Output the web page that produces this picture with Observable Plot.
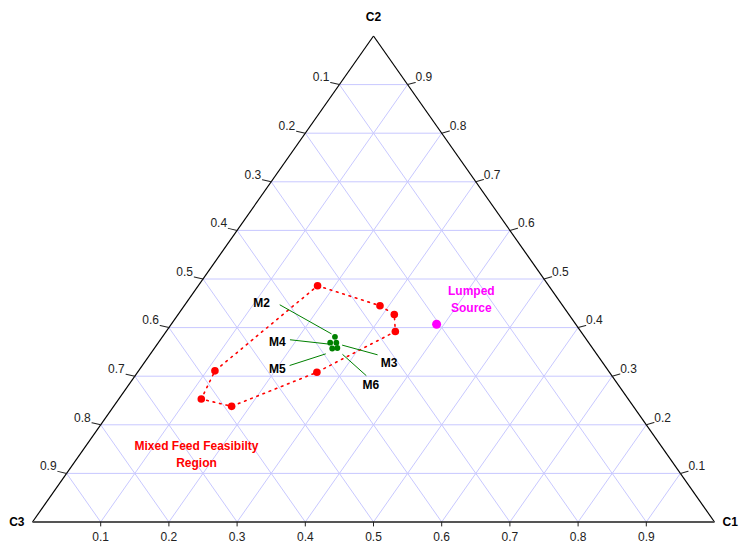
<!DOCTYPE html>
<html>
<head>
<meta charset="utf-8">
<script src="https://cdn.jsdelivr.net/npm/d3@7"></script>
<script src="https://cdn.jsdelivr.net/npm/@observablehq/plot@0.6"></script>
<style>
  html, body { margin: 0; padding: 0; background: #fff; }
  svg { display: block; }
</style>
</head>
<body>
<div id="chart"></div>
<script>
// Tick values along each edge
const ticks = [0.1, 0.2, 0.3, 0.4, 0.5, 0.6, 0.7, 0.8, 0.9];
const tickLabels = ["0.1", "0.2", "0.3", "0.4", "0.5", "0.6", "0.7", "0.8", "0.9"];

// Vertices (C1, C2 fractions)
const vertexNames = ["C1", "C2", "C3"];
const vertexC1 = [1, 0, 0];
const vertexC2 = [0, 1, 0];

// Mixed feed feasibility region (polygon vertices)
const feasC1 = [0.175, 0.287, 0.317, 0.336, 0.263, 0.173, 0.121, 0.112];
const feasC2 = [0.486, 0.445, 0.427, 0.392, 0.308, 0.238, 0.253, 0.311];

// Mixture points
const mixNames = ["M2", "M3", "M4", "M5", "M6"];
const mixC1 = [0.253, 0.261, 0.252, 0.261, 0.268];
const mixC2 = [0.381, 0.369, 0.369, 0.357, 0.358];
// Label positions
const mixLabelC1 = [0.111, 0.360, 0.174, 0.202, 0.355];
const mixLabelC2 = [0.450, 0.326, 0.370, 0.314, 0.282];
// Leader lines (from label side to point side)
const leadC1a = [0.139, 0.334, 0.190, 0.216, 0.339];
const leadC2a = [0.447, 0.344, 0.375, 0.322, 0.301];
const leadC1b = [0.245, 0.272, 0.252, 0.257, 0.282];
const leadC2b = [0.387, 0.364, 0.366, 0.346, 0.345];

// Lumped source
const lumpC1 = [0.389];
const lumpC2 = [0.407];

// Annotations
const noteText = ["Lumped\nSource", "Mixed Feed Feasibilty\nRegion"];
const noteC1 = [0.413, 0.170];
const noteC2 = [0.461, 0.141];
const noteColor = ["#ff00ff", "#ff0000"];

// ---- build tables ----
const X = (c1, c2) => c1 + c2 / 2;
const Y = (c1, c2) => c2;

const grid = [];
ticks.forEach(t => {
  grid.push({x1: X(0, t), y1: Y(0, t), x2: X(1 - t, t), y2: Y(1 - t, t)});
  grid.push({x1: X(t, 0), y1: Y(t, 0), x2: X(t, 1 - t), y2: Y(t, 1 - t)});
  grid.push({x1: X(1 - t, 0), y1: Y(1 - t, 0), x2: X(0, 1 - t), y2: Y(0, 1 - t)});
});

const vtx = vertexNames.map((n, i) => ({n, x: X(vertexC1[i], vertexC2[i]), y: Y(vertexC1[i], vertexC2[i])}));
const V = Object.fromEntries(vtx.map(d => [d.n, d]));
const sides = [
  {x1: V.C3.x, y1: V.C3.y, x2: V.C2.x, y2: V.C2.y, stroke: "#000", w: 1.2},
  {x1: V.C2.x, y1: V.C2.y, x2: V.C1.x, y2: V.C1.y, stroke: "#000", w: 1.2},
  {x1: V.C3.x, y1: V.C3.y, x2: V.C1.x, y2: V.C1.y, stroke: "#555", w: 1.8}
];

const bottomTicks = ticks.map((t, i) => ({x: X(t, 0), y: Y(t, 0), label: tickLabels[i]}));
const leftTicks = ticks.map((t, i) => ({x: X(0, 1 - t), y: Y(0, 1 - t), label: tickLabels[i]}));
const rightTicks = ticks.map((t, i) => ({x: X(1 - t, t), y: Y(1 - t, t), label: tickLabels[i]}));

const feas = feasC1.map((c1, i) => ({x: X(c1, feasC2[i]), y: Y(c1, feasC2[i])}));
const feasClosed = [...feas, feas[0]];

const mix = mixNames.map((n, i) => ({
  n,
  x: X(mixC1[i], mixC2[i]), y: Y(mixC1[i], mixC2[i]),
  lx: X(mixLabelC1[i], mixLabelC2[i]), ly: Y(mixLabelC1[i], mixLabelC2[i]),
  ax: X(leadC1a[i], leadC2a[i]), ay: Y(leadC1a[i], leadC2a[i]),
  bx: X(leadC1b[i], leadC2b[i]), by: Y(leadC1b[i], leadC2b[i])
}));

const lump = lumpC1.map((c1, i) => ({x: X(c1, lumpC2[i]), y: Y(c1, lumpC2[i])}));
const notes = noteText.map((t, i) => ({t, x: X(noteC1[i], noteC2[i]), y: Y(noteC1[i], noteC2[i]), c: noteColor[i]}));

const tickShape = {draw(context, l) { context.moveTo(0, 0); context.lineTo(0, -l); }};

const chart = Plot.plot({
  width: 741,
  height: 544,
  marginLeft: 32,
  marginRight: 27,
  marginTop: 35.5,
  marginBottom: 22.5,
  x: {domain: [0, 1], axis: null},
  y: {domain: [0, 1], axis: null},
  style: {fontFamily: "'Liberation Sans', Arial, sans-serif", fontSize: "12px", background: "#fff"},
  marks: [
    Plot.link(grid, {x1: "x1", y1: "y1", x2: "x2", y2: "y2", stroke: "#c8c8ff", strokeWidth: 1}),
    Plot.link(sides, {x1: "x1", y1: "y1", x2: "x2", y2: "y2", stroke: "stroke", strokeWidth: "w"}),
    Plot.vector(bottomTicks, {x: "x", y: "y", length: 4, rotate: 180, anchor: "start", shape: tickShape, stroke: "#222", strokeWidth: 1}),
    Plot.vector(leftTicks, {x: "x", y: "y", length: 9, rotate: -77, anchor: "start", shape: tickShape, stroke: "#222", strokeWidth: 1}),
    Plot.vector(rightTicks, {x: "x", y: "y", length: 8, rotate: 74, anchor: "start", shape: tickShape, stroke: "#222", strokeWidth: 1}),
    Plot.text(bottomTicks, {x: "x", y: "y", text: "label", dy: 15.5, fill: "#222", fontSize: 12}),
    Plot.text(leftTicks, {x: "x", y: "y", text: "label", dx: -10, dy: -7, textAnchor: "end", fill: "#222", fontSize: 12}),
    Plot.text(rightTicks, {x: "x", y: "y", text: "label", dx: 8, dy: -7, textAnchor: "start", fill: "#222", fontSize: 12}),
    Plot.text([V.C2], {x: "x", y: "y", text: "n", dy: -19, fontWeight: "bold", fontSize: 12, fill: "#000"}),
    Plot.text([V.C3], {x: "x", y: "y", text: "n", dx: -8, textAnchor: "end", fontWeight: "bold", fontSize: 12, fill: "#000"}),
    Plot.text([V.C1], {x: "x", y: "y", text: "n", dx: 8, textAnchor: "start", fontWeight: "bold", fontSize: 12, fill: "#000"}),
    Plot.line(feasClosed, {x: "x", y: "y", stroke: "#ff0000", strokeWidth: 1.6, strokeDasharray: "1.6,5", strokeLinecap: "round"}),
    Plot.dot(feas, {x: "x", y: "y", r: 3.8, fill: "#ff0000", stroke: "none"}),
    Plot.link(mix, {x1: "ax", y1: "ay", x2: "bx", y2: "by", stroke: "#008000", strokeWidth: 1}),
    Plot.dot(mix, {x: "x", y: "y", r: 2.9, fill: "#008000", stroke: "none"}),
    Plot.text(mix, {x: "lx", y: "ly", text: "n", fontWeight: "bold", fontSize: 12, fill: "#000"}),
    Plot.dot(lump, {x: "x", y: "y", r: 4.5, fill: "#ff00ff", stroke: "none"}),
    Plot.text(notes, {x: "x", y: "y", text: "t", fill: "c", fontWeight: "bold", fontSize: 12, lineHeight: 1.4})
  ]
});
document.getElementById("chart").appendChild(chart);
</script>
</body>
</html>
